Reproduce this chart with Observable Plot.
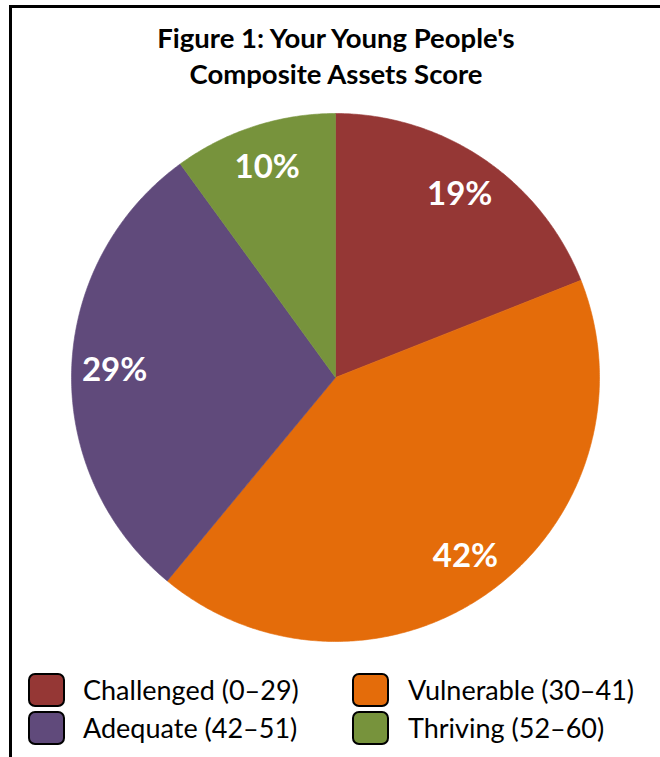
<!DOCTYPE html>
<html>
<head>
<meta charset="utf-8">
<script src="https://cdn.jsdelivr.net/npm/d3@7"></script>
<script src="https://cdn.jsdelivr.net/npm/@observablehq/plot@0.6"></script>
<style>
  html, body { margin: 0; padding: 0; background: #fff; overflow: hidden; width: 660px; height: 757px; }
  body { position: relative; font-family: Lato, "Open Sans", sans-serif; }
  #frame { position: absolute; left: 9px; top: 5px; width: 700px; height: 800px;
           border-top: 3px solid #000; border-left: 3px solid #000; box-sizing: border-box; }
  .title { position: absolute; left: 0; width: 672px; text-align: center; font-weight: bold;
           font-size: 27.5px; color: #000; white-space: nowrap; }
  #chart { position: absolute; left: 0; top: 105px; }
  .sw { position: absolute; width: 37px; height: 34px; box-sizing: border-box;
        border: 2.5px solid #000; border-radius: 7px; }
  .lt { position: absolute; font-size: 27px; line-height: 34px; height: 34px; color: #000; white-space: nowrap; }
</style>
</head>
<body>
<div id="frame"></div>
<div class="title" style="top:21px">Figure 1: Your Young People's</div>
<div class="title" style="top:57px">Composite Assets Score</div>
<div id="chart"></div>
<div id="legend"></div>
<script>
const categories = ["Challenged (0–29)", "Vulnerable (30–41)", "Adequate (42–51)", "Thriving (52–60)"];
const shares = [19, 42, 29, 10];
const labels = ["19%", "42%", "29%", "10%"];
const colors = ["#953735", "#E46C0A", "#604A7B", "#77933C"];

const R = 264;       // pie radius (px units)
const LR = 221;      // label radius

const data = categories.map((c, i) => ({category: c, share: shares[i], label: labels[i]}));
const arcs = d3.pie().sort(null).value(d => d.share)(data);

// polygon vertices for each slice, derived from the pie angles
const pts = [];
arcs.forEach(a => {
  const c = a.data.category;
  pts.push({category: c, x: 0, y: 0});
  const n = Math.max(2, Math.ceil((a.endAngle - a.startAngle) / (Math.PI / 360)));
  for (let k = 0; k <= n; k++) {
    const t = a.startAngle + (a.endAngle - a.startAngle) * k / n;
    pts.push({category: c, x: R * Math.sin(t), y: R * Math.cos(t)});
  }
  pts.push({category: c, x: 0, y: 0});
});
const labelPts = arcs.map(a => {
  const m = (a.startAngle + a.endAngle) / 2;
  return {label: a.data.label, x: LR * Math.sin(m), y: LR * Math.cos(m)};
});

const chart = Plot.plot({
  width: 660,
  height: 540,
  marginLeft: 10, marginRight: 0, marginTop: 0, marginBottom: 0,
  x: {domain: [-325, 325], axis: null},
  y: {domain: [-268, 272], axis: null},
  color: {domain: categories, range: colors},
  style: {background: "transparent", overflow: "visible"},
  marks: [
    Plot.line(pts, {x: "x", y: "y", z: "category", fill: "category", stroke: "category", strokeWidth: 0.6, curve: "linear"}),
    Plot.text(labelPts, {x: "x", y: "y", text: "label", fill: "white", fontWeight: "bold",
                         fontSize: 33, fontFamily: "Lato, 'Open Sans', sans-serif"})
  ]
});
document.getElementById("chart").appendChild(chart);

// legend (2 columns x 2 rows)
const legend = document.getElementById("legend");
const colX = [28, 352], textX = [83, 408], rowY = [673, 711];
categories.forEach((c, i) => {
  const col = i % 2, row = Math.floor(i / 2);
  const sw = document.createElement("div");
  sw.className = "sw";
  sw.style.left = colX[col] + "px";
  sw.style.top = rowY[row] + "px";
  sw.style.background = colors[i];
  legend.appendChild(sw);
  const t = document.createElement("div");
  t.className = "lt";
  t.style.left = textX[col] + "px";
  t.style.top = rowY[row] + "px";
  t.textContent = c;
  legend.appendChild(t);
});
</script>
</body>
</html>
